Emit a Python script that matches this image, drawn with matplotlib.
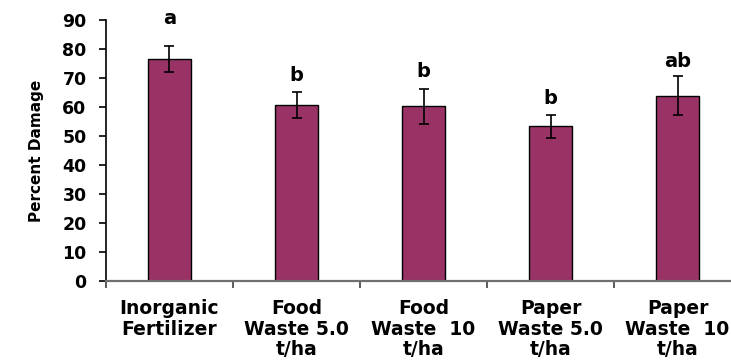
import matplotlib.pyplot as plt
import numpy as np

# Percent damage by soil amendment, with standard error and mean separation letters
treatments = ['Inorganic\nFertilizer', 'Food\nWaste 5.0\nt/ha', 'Food\nWaste  10\nt/ha',
              'Paper\nWaste 5.0\nt/ha', 'Paper\nWaste  10\nt/ha']
damage = [76.5, 60.8, 60.3, 53.3, 63.9]
std_err = [4.5, 4.5, 6.0, 4.1, 6.7]
letters = ['a', 'b', 'b', 'b', 'ab']
letter_y = [88.6, 69.0, 70.5, 61.2, 73.8]

bar_color = '#993366'
font = 'DejaVu Sans'

fig = plt.figure(figsize=(7.31, 3.63), dpi=100)
ax = fig.add_axes([0.145, 0.2259, 0.8687, 0.719])

x = np.arange(len(treatments)) + 0.5
ax.bar(x, damage, width=0.34, color=bar_color, edgecolor='black', linewidth=1.0, zorder=2)
ax.errorbar(x, damage, yerr=std_err, fmt='none', ecolor='black', elinewidth=1.2,
            capsize=3.5, capthick=1.2, zorder=3)

for xi, lab, ly in zip(x, letters, letter_y):
    ax.text(xi, ly, lab, ha='center', va='baseline', fontsize=14,
            fontweight='bold', family=font)

ax.set_xlim(0, len(treatments))
ax.set_ylim(0, 90)
ax.set_yticks(np.arange(0, 91, 10))
ax.set_yticklabels([str(v) for v in range(0, 91, 10)], fontsize=12.5,
                   fontweight='bold', family=font)

# boundary ticks between categories, labels at the category centres
ax.set_xticks(np.arange(len(treatments) + 1))
ax.set_xticklabels([])
ax.set_xticks(x, minor=True)
ax.set_xticklabels(treatments, minor=True, fontsize=13.5, fontweight='bold',
                   family=font, linespacing=1.1)
ax.tick_params(axis='x', which='minor', length=0, pad=13)
ax.tick_params(axis='x', which='major', length=5, width=1.2, color='#404040')
ax.tick_params(axis='y', length=5, width=1.2, pad=9)

ax.spines['top'].set_visible(False)
ax.spines['right'].set_visible(False)
ax.spines['left'].set_linewidth(1.2)
ax.spines['bottom'].set_linewidth(1.6)
ax.spines['bottom'].set_color('#707070')

ax.set_ylabel('Percent Damage', fontsize=11, fontweight='bold', family=font, labelpad=13)

fig.savefig('out.png', dpi=100)
